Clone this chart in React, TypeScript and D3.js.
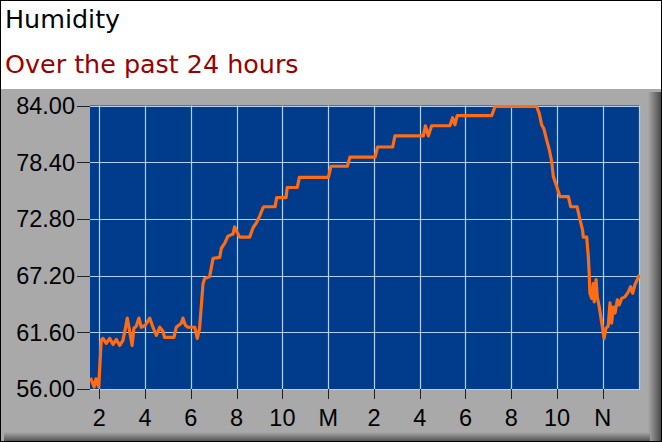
import React, { useRef, useEffect } from "react";
import * as d3 from "d3";

// clock hours (values past 24 are the next day) and humidity
const hours = [
  13.61, 13.77, 13.85, 13.97, 14.08, 14.16, 14.3, 14.45, 14.6, 14.74, 14.89, 15.03,
  15.13, 15.22, 15.33, 15.43, 15.51, 15.61, 15.73, 15.83, 16.01, 16.2, 16.34, 16.49,
  16.64, 16.78, 16.85, 17.26, 17.36, 17.58, 17.65, 17.76, 17.87, 18.17, 18.28, 18.38,
  18.53, 18.6, 18.82, 18.97, 19.26, 19.33, 19.48, 19.62, 19.84, 19.91, 20.13, 20.57,
  20.71, 20.86, 21.01, 21.15, 21.2, 21.68, 21.75, 22.16, 22.21, 22.65, 22.74, 24.01,
  24.12, 24.84, 24.95, 26.05, 26.16, 26.82, 26.92, 28.16, 28.25, 28.38, 28.52, 29.32,
  29.44, 29.54, 29.64, 31.15, 31.29, 33.11, 33.23, 33.33, 33.43, 33.55, 33.67, 33.77,
  33.84, 33.99, 34.13, 34.5, 34.6, 34.88, 35.01, 35.12, 35.15, 35.3, 35.37, 35.41,
  35.44, 35.52, 35.59, 35.63, 35.71, 35.76, 35.85, 35.95, 36.06, 36.14, 36.24, 36.32,
  36.39, 36.46, 36.54, 36.64, 36.72, 36.83, 36.97, 37.12, 37.22, 37.31, 37.41, 37.51,
  37.61
];
const humidity = [
  57.1, 56.2, 57.0, 56.2, 60.8, 61.0, 60.5, 61.0, 60.4, 60.9, 60.3, 60.8,
  61.9, 63.0, 61.6, 60.3, 62.0, 62.2, 63.0, 62.1, 62.3, 63.0, 62.1, 61.3,
  62.1, 61.7, 61.1, 61.1, 62.1, 62.5, 63.0, 62.3, 62.1, 62.1, 61.0, 62.0,
  66.4, 66.9, 67.1, 68.9, 69.0, 69.9, 70.4, 71.1, 71.3, 72.0, 71.0, 71.0,
  71.9, 72.4, 73.1, 73.9, 74.0, 74.0, 74.9, 74.9, 75.9, 75.9, 76.9, 76.9,
  78.0, 78.0, 78.9, 78.9, 79.9, 79.9, 81.0, 81.0, 82.0, 81.0, 82.0, 82.0,
  82.8, 82.1, 83.0, 83.0, 83.9, 83.9, 83.2, 82.1, 81.7, 80.6, 79.6, 78.45,
  77.0, 76.0, 75.0, 75.0, 74.0, 74.0, 72.7, 71.7, 71.0, 71.0, 69.1, 67.4,
  65.45, 64.95, 66.4, 64.6, 66.8, 65.1, 64.1, 62.65, 61.0, 62.0, 62.2, 64.5,
  62.5, 64.1, 63.5, 64.8, 64.3, 64.95, 65.1, 65.6, 66.1, 65.45, 66.3, 66.8,
  67.3
];
const yTicks = [56, 61.6, 67.2, 72.8, 78.4, 84];
const windowHours = [13.59, 37.63];

const base = new Date(2024, 0, 1);
const toDate = (h: number) => new Date(base.getTime() + h * 3600e3);

const hourLabel = (d: Date) => {
  const h = d.getHours();
  if (h === 0) return "M";
  if (h === 12) return "N";
  return String(h % 12);
};

const W = 662,
  H = 442;
const plot = { left: 90, right: 640, top: 105.5, bottom: 389 };

const HumidityChart = () => {
  const node: any = useRef();

  useEffect(() => {
    const svg = d3.select(node.current);
    svg.selectAll("*").remove();

    const x = d3
      .scaleTime()
      .domain(windowHours.map(toDate))
      .range([plot.left, plot.right]);
    const y = d3.scaleLinear().domain([56, 84]).range([plot.bottom, plot.top]);

    const defs = svg.append("defs");
    const rg = defs.append("linearGradient").attr("id", "shadeR").attr("x1", 0).attr("x2", 1);
    rg.append("stop").attr("offset", 0).attr("stop-color", "#a9a9a9");
    rg.append("stop").attr("offset", 1).attr("stop-color", "#4a4a4a");
    const bg = defs
      .append("linearGradient")
      .attr("id", "shadeB")
      .attr("x1", 0)
      .attr("x2", 0)
      .attr("y1", 0)
      .attr("y2", 1);
    bg.append("stop").attr("offset", 0).attr("stop-color", "#a9a9a9");
    bg.append("stop").attr("offset", 1).attr("stop-color", "#4a4a4a");
    defs
      .append("clipPath")
      .attr("id", "plotClip")
      .append("rect")
      .attr("x", plot.left)
      .attr("y", plot.top - 2)
      .attr("width", plot.right - plot.left)
      .attr("height", plot.bottom - plot.top + 2);

    // page and gray panel
    svg.append("rect").attr("width", W).attr("height", H).attr("fill", "#fff");
    svg.append("rect").attr("x", 0).attr("y", 89).attr("width", W).attr("height", H - 89).attr("fill", "#a9a9a9");
    svg.append("rect").attr("x", 648).attr("y", 92).attr("width", 13).attr("height", H - 92).attr("fill", "url(#shadeR)");
    svg.append("rect").attr("x", 4).attr("y", 432).attr("width", 646).attr("height", 10).attr("fill", "url(#shadeB)");
    svg
      .append("rect")
      .attr("x", 0.5)
      .attr("y", 0.5)
      .attr("width", W - 1)
      .attr("height", H - 1)
      .attr("fill", "none")
      .attr("stroke", "#000");

    // titles
    svg
      .append("text")
      .attr("x", 5)
      .attr("y", 28)
      .attr("font-family", "DejaVu Sans")
      .attr("font-size", 25.4)
      .attr("fill", "#000")
      .text("Humidity");
    svg
      .append("text")
      .attr("x", 5)
      .attr("y", 73)
      .attr("font-family", "DejaVu Sans")
      .attr("font-size", 25.4)
      .attr("fill", "#990000")
      .text("Over the past 24 hours");

    // plot area
    svg
      .append("rect")
      .attr("x", plot.left)
      .attr("y", plot.top)
      .attr("width", plot.right - plot.left)
      .attr("height", plot.bottom - plot.top)
      .attr("fill", "#003b8c");

    const xTicks = x.ticks(d3.timeHour.every(2) as any);
    const grid = svg.append("g").attr("stroke", "#b0d0f4").attr("stroke-width", 1.2);
    grid
      .selectAll("line.v")
      .data(xTicks)
      .enter()
      .append("line")
      .attr("x1", d => Math.round(x(d)) + 0.5)
      .attr("x2", d => Math.round(x(d)) + 0.5)
      .attr("y1", plot.top)
      .attr("y2", plot.bottom);
    grid
      .selectAll("line.h")
      .data(yTicks)
      .enter()
      .append("line")
      .attr("x1", plot.left)
      .attr("x2", plot.right)
      .attr("y1", d => Math.round(y(d)) + 0.5)
      .attr("y2", d => Math.round(y(d)) + 0.5);
    grid
      .append("line")
      .attr("x1", plot.right - 0.5)
      .attr("x2", plot.right - 0.5)
      .attr("y1", plot.top)
      .attr("y2", plot.bottom);

    // axes
    const yAxis = svg.append("g");
    yAxis
      .selectAll("line")
      .data(yTicks)
      .enter()
      .append("line")
      .attr("x1", 77)
      .attr("x2", plot.left)
      .attr("y1", d => Math.round(y(d)) + 0.5)
      .attr("y2", d => Math.round(y(d)) + 0.5)
      .attr("stroke", "#222");
    yAxis
      .selectAll("text")
      .data(yTicks)
      .enter()
      .append("text")
      .attr("x", 75)
      .attr("y", d => y(d))
      .attr("dy", "0.36em")
      .attr("text-anchor", "end")
      .attr("font-family", "Liberation Sans, Arial, sans-serif")
      .attr("font-size", 23.5)
      .attr("fill", "#000")
      .text(d => d3.format(".2f")(d));

    const xAxis = svg.append("g");
    xAxis
      .selectAll("line")
      .data(xTicks)
      .enter()
      .append("line")
      .attr("x1", d => Math.round(x(d)) + 0.5)
      .attr("x2", d => Math.round(x(d)) + 0.5)
      .attr("y1", plot.bottom)
      .attr("y2", 399)
      .attr("stroke", "#222");
    xAxis
      .selectAll("text")
      .data(xTicks)
      .enter()
      .append("text")
      .attr("x", d => x(d))
      .attr("y", 426)
      .attr("text-anchor", "middle")
      .attr("font-family", "Liberation Sans, Arial, sans-serif")
      .attr("font-size", 23.5)
      .attr("fill", "#000")
      .text(d => hourLabel(d));

    // humidity line
    const line = d3
      .line<number>()
      .x((_, i) => x(toDate(hours[i])))
      .y(d => y(d));
    svg
      .append("path")
      .datum(humidity)
      .attr("clip-path", "url(#plotClip)")
      .attr("d", line)
      .attr("fill", "none")
      .attr("stroke", "#ff6c14")
      .attr("stroke-width", 3.2)
      .attr("stroke-linejoin", "round");
  }, []);

  return (
    <div style={{ position: "absolute", left: 0, top: 0 }}>
      <svg ref={node} width={W} height={H} style={{ display: "block" }}></svg>
    </div>
  );
};

export default function App() {
  return <HumidityChart />;
}
